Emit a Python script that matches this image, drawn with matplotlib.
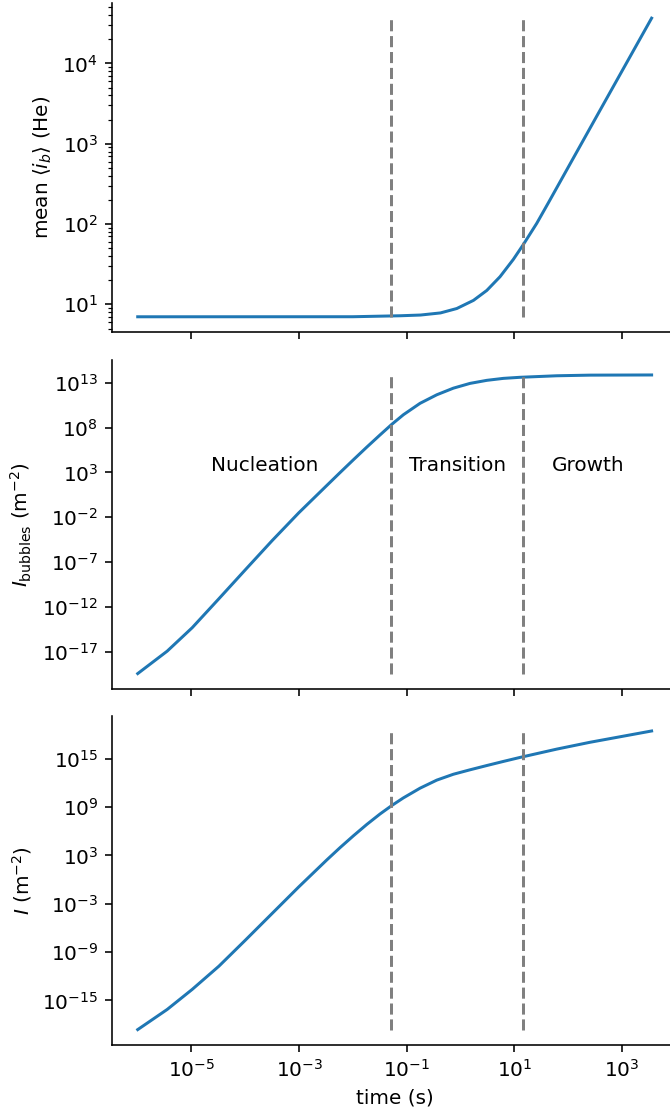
import numpy as np
import matplotlib.pyplot as plt
from matplotlib.ticker import NullLocator

# values (time in s)
time_ib = [1.0e-6, 0.01, 0.0771, 0.182, 0.427, 0.857, 1.75, 3.10,
           5.47, 9.66, 14.8, 26.3, 43.3, 395.0, 3600.0]
mean_ib = [7.0, 7.01, 7.21, 7.36, 7.82, 8.87, 11.2, 14.9,
           22.1, 36.3, 55.5, 102.0, 184.0, 2610.0, 3.67e4]

time = [1.0e-6, 3.53e-6, 1.03e-5, 3.23e-5, 1.01e-4, 3.16e-4, 9.9e-4, 3.29e-3,
        5.81e-3, 1.03e-2, 1.82e-2, 3.21e-2, 5.31e-2, 8.73e-2, 0.178, 0.364,
        0.741, 1.51, 3.10, 6.30, 12.9, 61.9, 258.0, 3600.0]
I_bubbles = [3.8e-20, 1.2e-17, 4.9e-15, 8.3e-12, 1.48e-8, 2.51e-5, 3.16e-2, 35.5,
             977.0, 2.63e4, 6.61e5, 1.51e7, 2.29e8, 2.69e9, 5.01e10, 4.47e11,
             2.45e12, 8.32e12, 1.82e13, 3.02e13, 3.98e13, 5.89e13, 6.92e13, 7.24e13]
I_total = [2.4e-19, 7.6e-17, 2.34e-14, 1.78e-11, 3.16e-8, 6.31e-5, 0.126, 282.0,
           9550.0, 2.82e5, 7.08e6, 1.41e8, 1.58e9, 1.41e10, 2.24e11, 2.24e12,
           1.2e13, 4.27e13, 1.45e14, 4.68e14, 1.48e15, 1.58e16, 1.12e17, 2.82e18]

t_boundaries = [0.052, 14.8]
phase_names = ['Nucleation', 'Transition', 'Growth']
phase_x = [2.3e-4, 0.88, 237.0]
phase_y = 5.8e3

fig = plt.figure(figsize=(670 / 144, 1115 / 144), dpi=144)
ax1 = fig.add_axes([0.1672, 0.7025, 0.8437, 0.2946])
ax2 = fig.add_axes([0.1672, 0.3825, 0.8437, 0.2946], sharex=ax1)
ax3 = fig.add_axes([0.1672, 0.0632, 0.8437, 0.2946], sharex=ax1)

panels = [(ax1, time_ib, mean_ib, r'mean $\langle i_b \rangle$ (He)'),
          (ax2, time, I_bubbles, r'$I_\mathrm{bubbles}$ (m$^{-2}$)'),
          (ax3, time, I_total, r'$I$ (m$^{-2}$)')]

for ax, t, y, lab in panels:
    ax.plot(t, y)
    ax.vlines(t_boundaries, min(y), max(y), colors='grey', linestyles='--')
    ax.set_xscale('log')
    ax.set_yscale('log')
    ax.set_ylabel(lab)
    ax.spines['top'].set_visible(False)
    ax.spines['right'].set_visible(False)

for name, x in zip(phase_names, phase_x):
    ax2.text(x, phase_y, name, ha='center', va='center')

ax2.set_yticks([1e-17, 1e-12, 1e-7, 1e-2, 1e3, 1e8, 1e13])
ax2.yaxis.set_minor_locator(NullLocator())
ax3.set_yticks([1e-15, 1e-9, 1e-3, 1e3, 1e9, 1e15])
ax3.yaxis.set_minor_locator(NullLocator())

ax3.set_xticks([1e-5, 1e-3, 1e-1, 1e1, 1e3])
ax3.xaxis.set_minor_locator(NullLocator())
ax3.set_xlabel('time (s)')
plt.setp(ax1.get_xticklabels(), visible=False)
plt.setp(ax2.get_xticklabels(), visible=False)

fig.savefig('out.png', dpi=144)
